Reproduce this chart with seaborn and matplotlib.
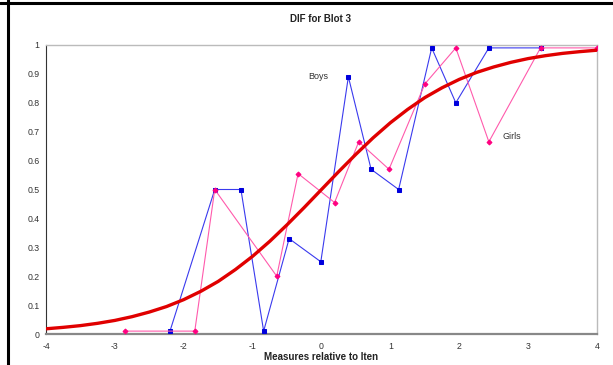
import numpy as np
import matplotlib
matplotlib.use("Agg")
import matplotlib.pyplot as plt
import seaborn as sns

sns.set_style("white")
plt.rcParams['font.family'] = ['Liberation Sans', 'DejaVu Sans']

# Boys observed proportions
boys_x = [-2.2, -1.55, -1.17, -0.84, -0.47, -0.01, 0.39, 0.72, 1.12, 1.60, 1.95, 2.43, 3.18]
boys_y = [0.01, 0.50, 0.50, 0.01, 0.33, 0.25, 0.89, 0.57, 0.50, 0.99, 0.80, 0.99, 0.99]

# Girls observed proportions
girls_x = [-2.85, -1.84, -1.55, -0.65, -0.34, 0.19, 0.54, 0.98, 1.50, 1.95, 2.43, 3.18, 4.0]
girls_y = [0.01, 0.01, 0.50, 0.20, 0.555, 0.455, 0.665, 0.57, 0.865, 0.99, 0.665, 0.99, 0.99]

# model curve, every 0.25
curve_x = [-4.0, -3.75, -3.5, -3.25, -3.0, -2.75, -2.5, -2.25, -2.0, -1.75, -1.5, -1.25,
           -1.0, -0.75, -0.5, -0.25, 0.0, 0.25, 0.5, 0.75, 1.0, 1.25, 1.5, 1.75,
           2.0, 2.25, 2.5, 2.75, 3.0, 3.25, 3.5, 3.75, 4.0]
curve_y = [0.018, 0.023, 0.029, 0.037, 0.047, 0.060, 0.076, 0.095, 0.119, 0.148, 0.182, 0.223,
           0.269, 0.321, 0.378, 0.438, 0.500, 0.562, 0.622, 0.679, 0.731, 0.777, 0.818, 0.852,
           0.881, 0.905, 0.924, 0.940, 0.953, 0.963, 0.971, 0.977, 0.982]

x_ticks = [-4, -3, -2, -1, 0, 1, 2, 3, 4]
y_ticks = [0, 0.1, 0.2, 0.3, 0.4, 0.5, 0.6, 0.7, 0.8, 0.9, 1]
y_labels = ['0', '0.1', '0.2', '0.3', '0.4', '0.5', '0.6', '0.7', '0.8', '0.9', '1']

fig = plt.figure(figsize=(6.13, 3.65), dpi=100)
ax = fig.add_axes([46 / 613, 1 - 334 / 365, (597 - 46) / 613, (334 - 45) / 365])

sns.lineplot(x=boys_x, y=boys_y, ax=ax, estimator=None, sort=False, color='#3a3aee',
             linewidth=0.8, marker='s', markersize=3.4, markerfacecolor='#0000dd',
             markeredgecolor='#0000dd', clip_on=False, zorder=3)
sns.lineplot(x=girls_x, y=girls_y, ax=ax, estimator=None, sort=False, color='#ff5aac',
             linewidth=0.8, marker='D', markersize=2.5, markerfacecolor='#ff0080',
             markeredgecolor='#ff0080', clip_on=True, zorder=4)
sns.lineplot(x=curve_x, y=curve_y, ax=ax, estimator=None, sort=False, color='#e00000',
             linewidth=2.4, zorder=5)

ax.set_xlim(-4, 4)
ax.set_ylim(0, 1)
ax.set_xticks(x_ticks)
ax.set_xticklabels([str(t) for t in x_ticks])
ax.set_yticks(y_ticks)
ax.set_yticklabels(y_labels)
ax.tick_params(axis='both', labelsize=6.3, length=2.5, width=0.7, direction='out',
               colors='#333333', pad=2)
ax.tick_params(axis='x', pad=3)

for side in ['top', 'right']:
    ax.spines[side].set_color('#bbbbbb')
    ax.spines[side].set_linewidth(1.0)
ax.spines['bottom'].set_color('#888888')
ax.spines['bottom'].set_linewidth(1.6)
ax.spines['left'].set_color('#333333')
ax.spines['left'].set_linewidth(0.8)

ax.text(-0.05, 0.89, 'Boys', fontsize=6.5, color='#333333', ha='center', va='center')
ax.text(2.76, 0.685, 'Girls', fontsize=6.5, color='#333333', ha='center', va='center')

fig.text(321 / 613, 1 - 19 / 365, 'DIF for Blot 3', fontsize=7, fontweight='bold',
         ha='center', va='center', color='#222222')
fig.text(321 / 613, 1 - 357 / 365, 'Measures relative to Iten', fontsize=7,
         fontweight='bold', ha='center', va='center', color='#222222')

# outer black border on top and left
fig.add_artist(plt.Line2D([0, 1], [1 - 3 / 365, 1 - 3 / 365], color='black',
                          linewidth=2.2, transform=fig.transFigure))
fig.add_artist(plt.Line2D([8 / 613, 8 / 613], [0, 1], color='black',
                          linewidth=2.2, transform=fig.transFigure))

fig.savefig('out.png', dpi=100)
